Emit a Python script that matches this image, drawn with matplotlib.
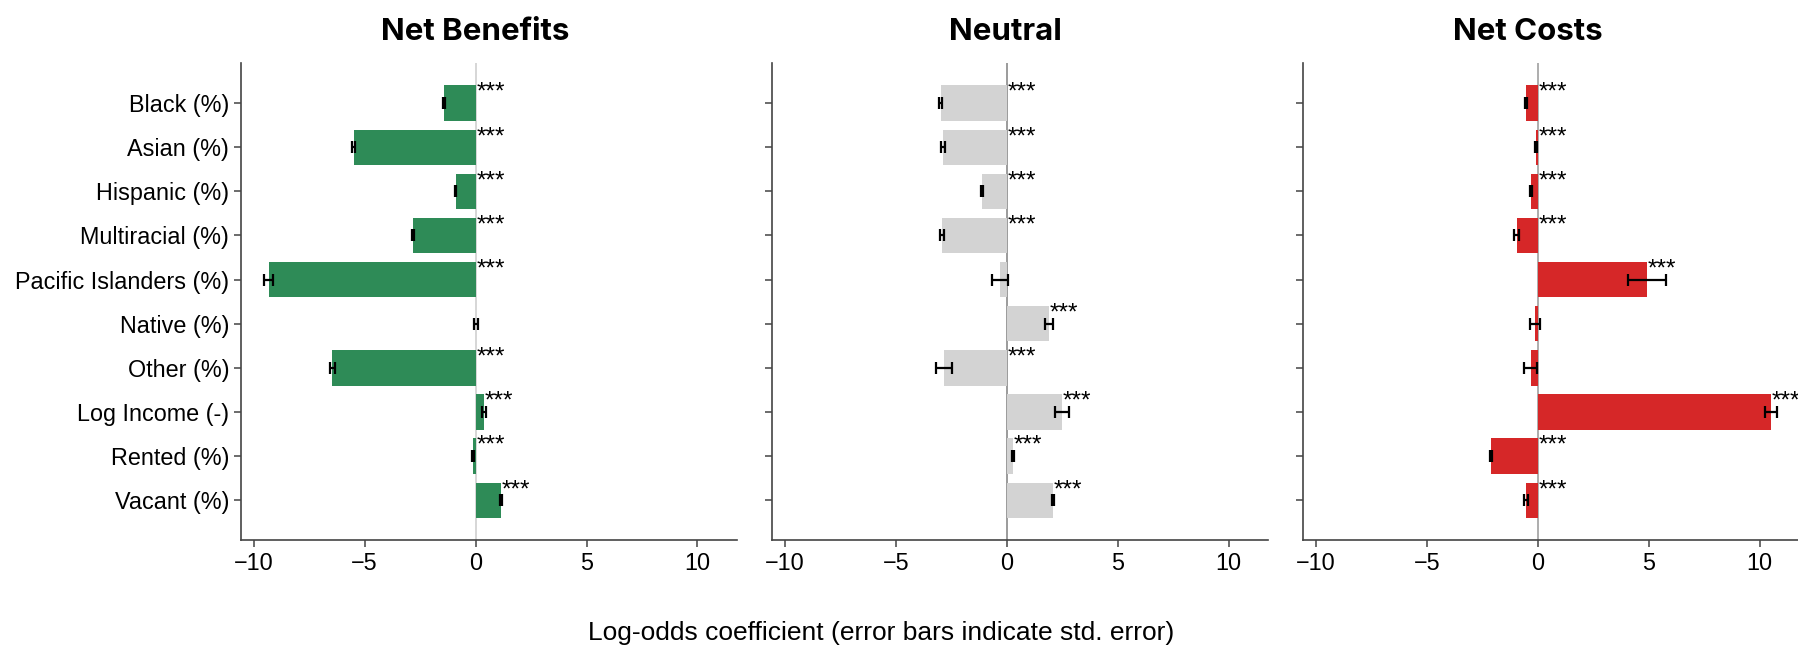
import matplotlib
matplotlib.use("Agg")
import matplotlib.pyplot as plt
import numpy as np

plt.rcParams['font.family'] = ['Liberation Sans', 'DejaVu Sans']

categories = ["Black (%)", "Asian (%)", "Hispanic (%)", "Multiracial (%)",
              "Pacific Islanders (%)", "Native (%)", "Other (%)",
              "Log Income (-)", "Rented (%)", "Vacant (%)"]

panel_titles = ["Net Benefits", "Neutral", "Net Costs"]

benefits_coef = [-1.41, -5.50, -0.90, -2.82, -9.33, 0.02, -6.45, 0.37, -0.12, 1.15]
benefits_err = [0.04, 0.05, 0.04, 0.05, 0.22, 0.07, 0.13, 0.10, 0.04, 0.04]
benefits_sig = ["***", "***", "***", "***", "***", "", "***", "***", "***", "***"]

neutral_coef = [-2.99, -2.87, -1.11, -2.93, -0.29, 1.91, -2.85, 2.47, 0.29, 2.07]
neutral_err = [0.05, 0.08, 0.05, 0.08, 0.36, 0.17, 0.36, 0.31, 0.04, 0.04]
neutral_sig = ["***", "***", "***", "***", "", "***", "***", "***", "***", "***"]

costs_coef = [-0.53, -0.08, -0.30, -0.96, 4.92, -0.14, -0.33, 10.50, -2.12, -0.53]
costs_err = [0.05, 0.05, 0.05, 0.10, 0.86, 0.23, 0.30, 0.28, 0.05, 0.09]
costs_sig = ["***", "***", "***", "***", "***", "", "", "***", "***", "***"]

coefs = [benefits_coef, neutral_coef, costs_coef]
errs = [benefits_err, neutral_err, costs_err]
sigs = [benefits_sig, neutral_sig, costs_sig]
bar_colors = ["#2e8b57", "#d3d3d3", "#d62728"]
zero_colors = ["#d0d0d0", "#8a8a8a", "#a0a0a0"]

W, H = 1799, 647
fig = plt.figure(figsize=(W / 100, H / 100), dpi=100)

lefts = [241, 772.3, 1303.3]
ax_w = 496
ax_top, ax_bottom = 63.3, 540
title_x = [475, 1005, 1528]

y = np.arange(len(categories))
axes = []
for k in range(3):
    ax = fig.add_axes([lefts[k] / W, 1 - ax_bottom / H, ax_w / W, (ax_bottom - ax_top) / H])
    axes.append(ax)
    ax.axvline(0, color=zero_colors[k], lw=1.2, zorder=1)
    ax.barh(y, coefs[k], height=0.8, color=bar_colors[k], zorder=2)
    ax.errorbar(coefs[k], y, xerr=errs[k], fmt='none', ecolor='black',
                elinewidth=1.6, capsize=4.5, capthick=1.6, zorder=3)
    for i, (v, s) in enumerate(zip(coefs[k], sigs[k])):
        if s:
            ax.text(max(v, 0) + 0.03, i + 0.02, s, ha='left', va='bottom',
                    fontsize=17.5, zorder=4)
    ax.set_xlim(-10.57, 11.78)
    ax.set_ylim(9.9, -0.9)
    ax.set_xticks([-10, -5, 0, 5, 10])
    ax.set_yticks(y)
    if k == 0:
        ax.set_yticklabels(categories)
    else:
        ax.set_yticklabels([])
    ax.tick_params(axis='both', labelsize=16.8, color='#444444', length=5, width=1.1)
    for side in ('top', 'right'):
        ax.spines[side].set_visible(False)
    for side in ('left', 'bottom'):
        ax.spines[side].set_color('#444444')
        ax.spines[side].set_linewidth(1.2)
    fig.text(title_x[k] / W, 1 - 40.5 / H, panel_titles[k], ha='center', va='baseline',
             fontsize=22.5, fontweight='bold', family=['Inter', 'DejaVu Sans'])

fig.text(881 / W, 1 - 640 / H, "Log-odds coefficient (error bars indicate std. error)",
         ha='center', va='baseline', fontsize=19)

fig.savefig("out.png", dpi=100)
